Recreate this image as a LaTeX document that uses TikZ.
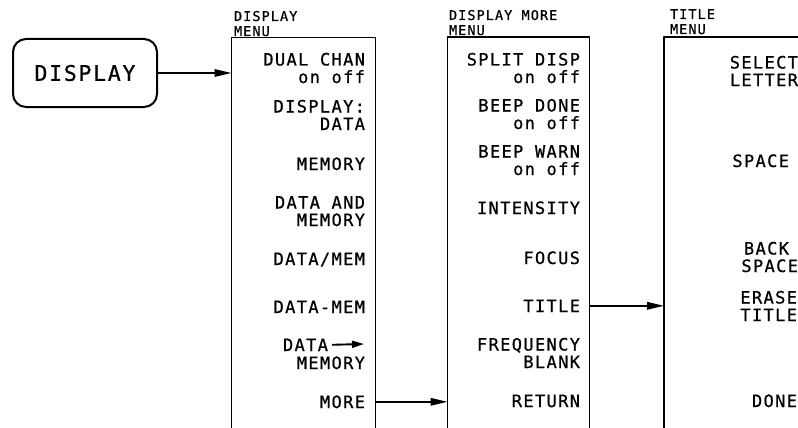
\documentclass[tikz,border=0pt]{standalone}
\usepackage{fontspec}
\newfontfamily\plotfont{DejaVu Sans Mono}[LetterSpace=8, FakeBold=0.7]
\usetikzlibrary{arrows.meta}

\begin{document}
\begin{tikzpicture}[x=1pt, y=-1pt, line join=round,
    every node/.style={inner sep=0pt, outer sep=0pt},
    softkey/.style={font=\plotfont\fontsize{17}{17.5}\selectfont, anchor=base east, align=right},
    heading/.style={font=\plotfont\fontsize{13.5}{15}\selectfont, anchor=base west, align=left},
    menubox/.style={draw, line width=1.8pt, anchor=north west, minimum width=#1, minimum height=420},
    hardkey/.style={draw, line width=2pt, rounded corners=13pt, minimum width=144, minimum height=68,
      font=\plotfont\fontsize{21.5}{23}\selectfont},
    flow/.style={line width=1.7pt, -{Triangle[length=17pt,width=7.5pt]}},
    smallflow/.style={line width=1.9pt, -{Triangle[length=12pt,width=7pt]}}]
  \useasboundingbox (0,0) rectangle (798,428);
  \clip (0,0) rectangle (798,428);

  % --- the front panel key ---
  \node[hardkey] (display) at (85,73) {DISPLAY};

  % --- 1. DISPLAY MENU ---
  % (multi-line labels sit on the baseline of their last line)
  \node[menubox=144] (dispmenu) at (231.5,37.5) {};
  \node[heading] (dispmenuhd) at (234,36) {DISPLAY\\MENU};
  \node[softkey] (dualchan) at (365,83) {DUAL CHAN\\on off};
  \node[softkey] (dispdata) at (365,130) {DISPLAY:\\DATA};
  \node[softkey] (memory) at (365,170) {MEMORY};
  \node[softkey] (dataandmem) at (365,226) {DATA AND\\MEMORY};
  \node[softkey] (dataovermem) at (365,265) {DATA/MEM};
  \node[softkey] (dataminusmem) at (365,313) {DATA-MEM};
  \node[softkey] (datato) at (328,351) {DATA};
  \node[softkey] (datatomem) at (365,369) {MEMORY};
  \coordinate (datatip) at (364,344);
  \node[softkey] (more) at (365,408) {MORE};

  % --- 2. DISPLAY MORE MENU ---
  \node[menubox=142] (moremenu) at (447.5,37) {};
  \node[heading] (moremenuhd) at (449,35) {DISPLAY MORE\\MENU};
  \node[softkey] (splitdisp) at (580,83) {SPLIT DISP\\on off};
  \node[softkey] (beepdone) at (580,129) {BEEP DONE\\on off};
  \node[softkey] (beepwarn) at (580,175) {BEEP WARN\\on off};
  \node[softkey] (intensity) at (580,214) {INTENSITY};
  \node[softkey] (focus) at (580,264) {FOCUS};
  \node[softkey] (title) at (580,312) {TITLE};
  \node[softkey] (freqblank) at (580,368) {FREQUENCY\\BLANK};
  \node[softkey] (return) at (580,407) {RETURN};

  % --- 3. TITLE MENU ---
  \node[menubox=160] (titlemenu) at (664,37) {};
  \node[heading] (titlemenuhd) at (670,34) {TITLE\\MENU};
  \node[softkey] (selectletter) at (798,86) {SELECT\\LETTER};
  \node[softkey] (space) at (789,167) {SPACE};
  \node[softkey] (backspace) at (798,272) {BACK\kern9pt\\SPACE};
  \node[softkey] (erasetitle) at (797,321) {ERASE\\TITLE};
  \node[softkey] (done) at (797,407) {DONE};

  % --- the maps between the menus ---
  \draw[flow] (display) -- (display -| dispmenu.west);
  \draw[smallflow] ([xshift=4pt]datato.east) -- (datatip);
  \draw[flow] (more.east -| dispmenu.east) -- (more.east -| moremenu.west);
  \draw[flow] (title.east -| moremenu.east) -- (title.east -| titlemenu.west);
\end{tikzpicture}
\end{document}
